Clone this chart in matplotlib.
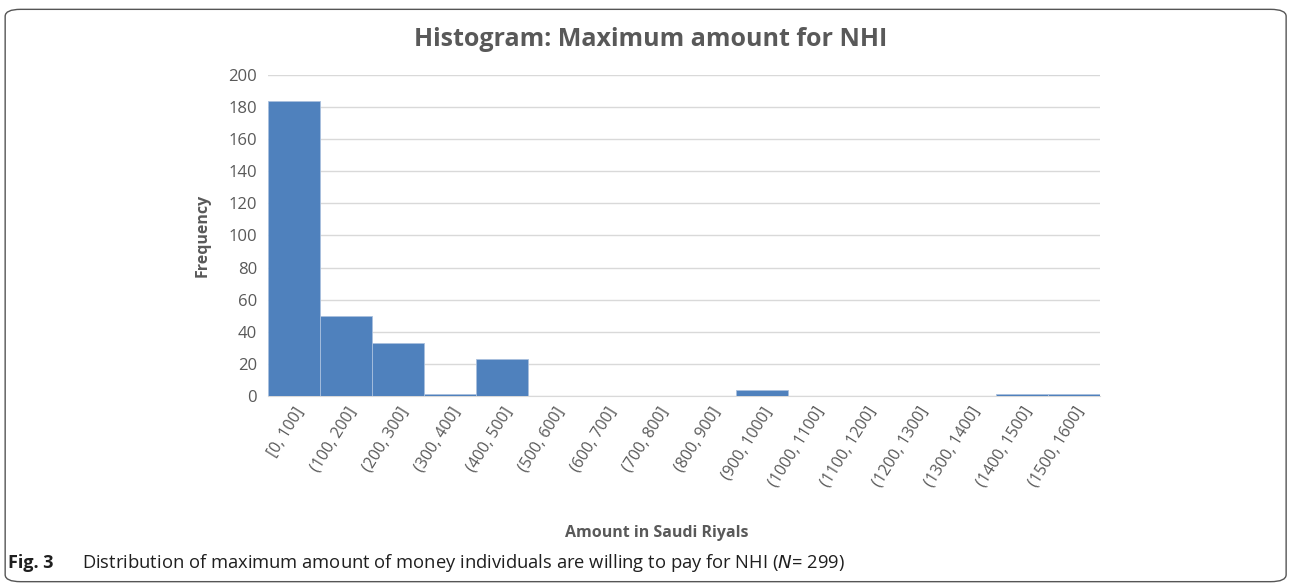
import matplotlib.pyplot as plt
from matplotlib.patches import FancyBboxPatch

bins = ['[0, 100]', '(100, 200]', '(200, 300]', '(300, 400]', '(400, 500]',
        '(500, 600]', '(600, 700]', '(700, 800]', '(800, 900]', '(900, 1000]',
        '(1000, 1100]', '(1100, 1200]', '(1200, 1300]', '(1300, 1400]',
        '(1400, 1500]', '(1500, 1600]']
counts = [184, 50, 33, 1, 23, 0, 0, 0, 0, 4, 0, 0, 0, 0, 1, 1]
y_ticks = [0, 20, 40, 60, 80, 100, 120, 140, 160, 180, 200]

plt.rcParams['font.family'] = ['Open Sans', 'DejaVu Sans']

fig = plt.figure(figsize=(12.9, 5.84), dpi=100)

# rounded frame around the figure panel
frame = FancyBboxPatch((0.004, 0.004), 0.993, 0.98, boxstyle='round,pad=0,rounding_size=0.012',
                       transform=fig.transFigure, fill=False, edgecolor='#555555', linewidth=1.0)
fig.patches.append(frame)

ax = fig.add_axes([0.2078, 0.3219, 0.6449, 0.5497])
x = range(len(bins))
ax.bar(x, counts, width=1.0, color='#4F81BD', edgecolor='#A9C0DE', linewidth=0.6, zorder=3)

ax.set_xlim(-0.5, len(bins) - 0.5)
ax.set_ylim(0, 200)
ax.set_yticks(y_ticks)
ax.set_xticks(list(x))
ax.set_xticklabels(bins, rotation=58, ha='right', va='top', rotation_mode='anchor',
                   fontsize=11.5, color='#595959')
ax.tick_params(axis='y', labelsize=12, labelcolor='#595959', length=0, pad=8)
ax.tick_params(axis='x', length=0, pad=6)
ax.grid(axis='y', color='#D9D9D9', linewidth=1.0, zorder=0)
for side in ['top', 'right', 'left']:
    ax.spines[side].set_visible(False)
ax.spines['bottom'].set_color('#D9D9D9')

fig.text(0.504, 0.932, 'Histogram: Maximum amount for NHI', ha='center', va='center',
         fontsize=18, fontweight='bold', color='#595959')
fig.text(0.157, 0.597, 'Frequency', rotation=90, ha='center', va='center',
         fontsize=11.5, fontweight='bold', color='#595959')
fig.text(0.509, 0.087, 'Amount in Saudi Riyals', ha='center', va='center',
         fontsize=11.5, fontweight='bold', color='#595959')

fig.text(0.006, 0.036, 'Fig. 3', ha='left', va='center', fontsize=13,
         fontweight='bold', color='#1f1f1f')
fig.text(0.0635, 0.036, 'Distribution of maximum amount of money individuals are willing to pay for NHI ($\\it{N}$= 299)',
         ha='left', va='center', fontsize=13.2, color='#1f1f1f')

fig.savefig('out.png', dpi=100)
